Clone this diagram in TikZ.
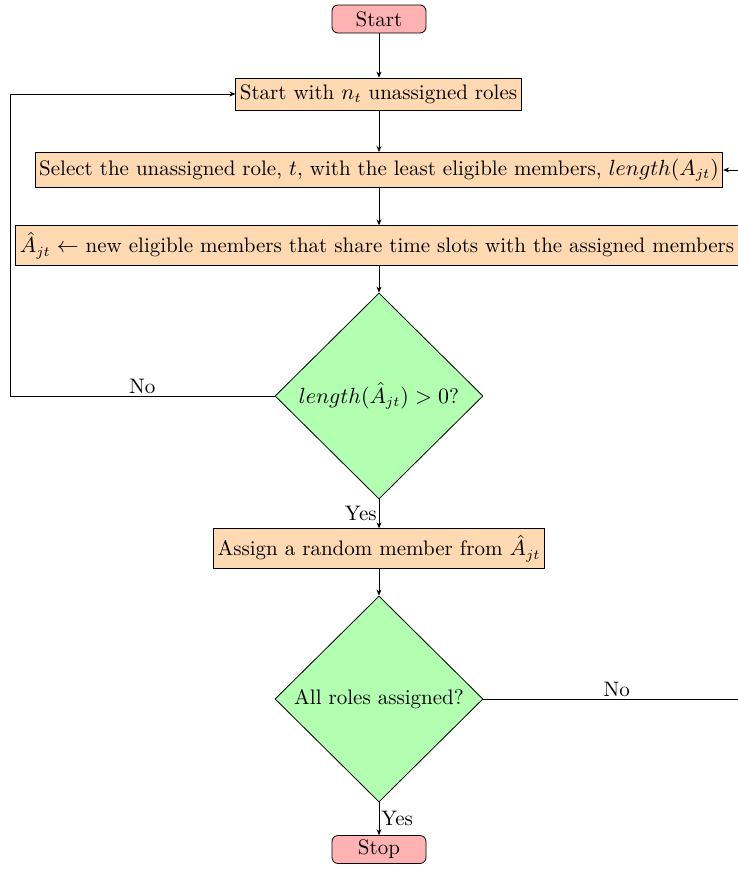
\documentclass[tikz,border=0pt]{standalone}
\usetikzlibrary{shapes.geometric,arrows.meta}
\begin{document}
\begin{tikzpicture}[x=0.5pt,y=-0.5pt,
 font=\fontsize{10.5}{12.5}\selectfont,
 startstop/.style={rectangle, rounded corners=3pt, draw, fill=red!30, minimum width=47pt, minimum height=14pt, inner sep=2pt},
 process/.style={rectangle, draw, fill=orange!30, inner xsep=2pt, inner ysep=3.2pt},
 decision/.style={diamond, draw, fill=green!30, minimum width=104pt, minimum height=103pt, inner sep=0pt},
 arr/.style={-{Stealth[length=3pt,width=2.5pt]}},
 lbl/.style={inner sep=1pt}]
\clip (0,0) rectangle (738,869);
\node[startstop] (start) at (379,19) {Start};
\node[process] (s1) at (378.5,94) {Start with $n_t$ unassigned roles};
\node[process] (sel) at (379,170) {Select the unassigned role, $t$, with the least eligible members, $length(A_{jt})$};
\node[process] (hat) at (377,245.5) {$\hat{A}_{jt} \leftarrow$ new eligible members that share time slots with the assigned members};
\node[decision] (d1) at (379,396) {$length(\hat{A}_{jt}) > 0$?};
\node[process] (assign) at (379,548.5) {Assign a random member from $\hat{A}_{jt}$};
\node[decision] (d2) at (379,699) {All roles assigned?};
\node[startstop] (stop) at (379,849.5) {Stop};
\coordinate (lc) at (10,396);
\coordinate (rc) at (750,699);
\draw[arr] (start) -- (start |- s1.north);
\draw[arr] (start |- s1.south) -- (start |- sel.north);
\draw[arr] (sel.south) -- (sel.south |- hat.north);
\draw[arr] (d1.north |- hat.south) -- (d1.north);
\draw[arr] (d1) -- node[left, lbl] {Yes} (assign);
\draw[arr] (d1.west) -- node[above, lbl] {No} (lc) |- (s1.west);
\draw[arr] (assign) -- (d2);
\draw[arr] (d2) -- node[right, lbl] {Yes} (stop);
\draw[arr] (d2.east) -- node[above, lbl] {No} (rc) |- (sel.east);
\end{tikzpicture}
\end{document}
